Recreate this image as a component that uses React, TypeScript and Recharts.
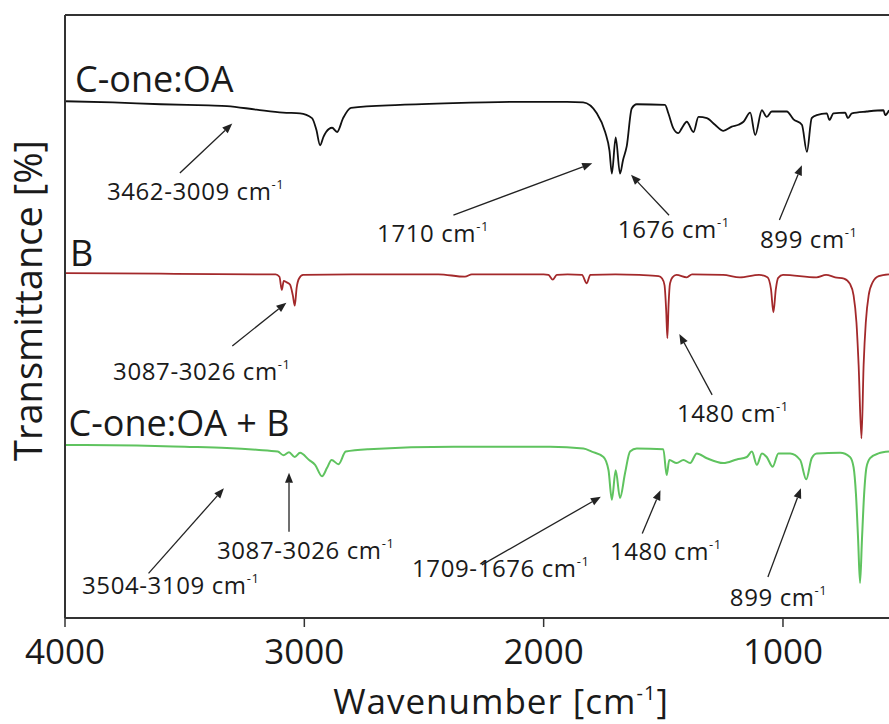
import { LineChart, Line, XAxis, YAxis, ReferenceLine, ReferenceDot } from "recharts";

// FTIR spectra, stacked: [wavenumber cm-1, transmittance (offset, a.u.)]
const cOneOA: [number, number][] = [
  [4000, 85.7], [3800, 85.5], [3600, 85.2], [3400, 85.0], [3323, 84.9], [3200, 84.3], [3089, 83.8],
  [3018, 83.7], [2968, 82.9], [2950, 81.0], [2934, 78.4], [2920, 79.8], [2909, 80.6], [2884, 81.3],
  [2863, 80.6], [2838, 82.9], [2805, 84.6], [2600, 85.1], [2379, 85.4], [2100, 85.6], [1902, 85.6],
  [1835, 85.5], [1778, 83.7], [1743, 80.6], [1725, 77.5], [1715, 73.7], [1699, 79.7], [1681, 73.7],
  [1668, 76.0], [1653, 78.2], [1632, 84.5], [1611, 85.2], [1493, 85.1], [1479, 83.7], [1458, 81.2],
  [1437, 80.4], [1423, 81.2], [1402, 82.3], [1374, 80.6], [1353, 83.1], [1318, 82.9], [1284, 81.8],
  [1249, 80.8], [1214, 81.5], [1186, 81.8], [1165, 82.3], [1137, 83.8], [1116, 80.1], [1088, 84.2],
  [1068, 83.1], [1047, 84.0], [984, 84.0], [956, 82.7], [921, 81.8], [900, 77.3], [880, 82.9],
  [859, 83.4], [817, 83.7], [806, 82.6], [789, 83.7], [740, 83.8], [729, 82.9], [712, 83.7],
  [650, 84.0], [580, 84.2], [573, 83.4], [557, 84.2],
];

const bSpec: [number, number][] = [
  [4000, 57.2], [3600, 57.1], [3200, 57.0], [3120, 57.0], [3104, 56.6], [3094, 54.4], [3086, 55.9],
  [3075, 55.7], [3060, 55.3], [3048, 53.5], [3040, 51.8], [3032, 54.8], [3022, 56.3], [3005, 56.9],
  [2800, 57.0], [2600, 57.0], [2440, 57.0], [2329, 56.6], [2300, 57.0], [2000, 57.0], [1980, 56.9],
  [1962, 56.1], [1945, 56.9], [1900, 57.0], [1840, 56.9], [1820, 55.5], [1805, 56.9], [1700, 57.0],
  [1600, 56.9], [1520, 56.7], [1505, 56.3], [1495, 55.2], [1488, 51.0], [1483, 46.4], [1478, 52.0],
  [1472, 55.5], [1462, 56.5], [1445, 56.9], [1402, 56.5], [1380, 57.0], [1250, 56.9], [1180, 56.5],
  [1100, 56.9], [1065, 56.5], [1050, 54.5], [1040, 50.7], [1030, 54.5], [1020, 56.4], [1000, 56.9],
  [860, 56.5], [820, 56.9], [782, 56.5], [745, 56.3], [720, 55.4], [705, 53.5], [693, 49.0],
  [684, 42.0], [672, 29.8], [663, 42.0], [654, 49.0], [642, 53.5], [625, 55.7], [600, 56.7], [557, 57.0],
];

const cOneOAB: [number, number][] = [
  [4000, 28.7], [3700, 28.6], [3500, 28.4], [3324, 28.2], [3200, 27.9], [3111, 27.6], [3087, 27.0],
  [3064, 27.5], [3040, 26.7], [3018, 27.4], [2980, 26.2], [2955, 25.4], [2926, 23.5], [2905, 24.9],
  [2886, 26.2], [2857, 25.5], [2827, 27.6], [2732, 28.0], [2376, 28.4], [1973, 28.4], [1834, 28.1],
  [1799, 27.6], [1750, 26.7], [1729, 24.5], [1715, 19.6], [1699, 24.5], [1681, 19.9], [1660, 24.0],
  [1639, 27.6], [1611, 28.1], [1500, 28.0], [1486, 23.7], [1475, 26.2], [1444, 25.7], [1416, 26.2],
  [1388, 25.7], [1360, 27.3], [1318, 26.5], [1249, 25.7], [1193, 26.3], [1151, 26.7], [1130, 27.6],
  [1109, 25.4], [1088, 27.3], [1068, 26.7], [1043, 25.1], [1019, 27.3], [970, 27.3], [928, 26.2],
  [903, 23.0], [880, 26.5], [859, 27.3], [761, 27.4], [720, 26.7], [705, 25.0], [695, 20.5],
  [686, 13.0], [678, 5.8], [670, 13.0], [661, 20.5], [651, 25.0], [636, 26.5], [601, 27.3], [557, 27.6],
];

const xTicks = [4000, 3000, 2000, 1000];

const seriesLabels = [
  { text: "C-one:OA", wn: 3958, t: 87.3 },
  { text: "B", wn: 3979, t: 58.4 },
  { text: "C-one:OA + B", wn: 3985, t: 30.2 },
];

// peak annotations: label anchor (left, baseline) and arrow tail -> head
const peakLabels = [
  { text: "3462-3009 cm", wn: 3825, t: 69.3 },
  { text: "1710 cm", wn: 2696, t: 62.4 },
  { text: "1676 cm", wn: 1690, t: 63.0 },
  { text: "899 cm", wn: 1096, t: 61.4 },
  { text: "3087-3026 cm", wn: 3799, t: 39.5 },
  { text: "1480 cm", wn: 1443, t: 32.5 },
  { text: "3504-3109 cm", wn: 3929, t: 4.0 },
  { text: "3087-3026 cm", wn: 3365, t: 9.8 },
  { text: "1709-1676 cm", wn: 2550, t: 6.8 },
  { text: "1480 cm", wn: 1723, t: 9.6 },
  { text: "899 cm", wn: 1222, t: 2.0 },
];

const arrows = [
  { from: [3520, 73.8], to: [3301, 82.0] },
  { from: [2377, 66.8], to: [1797, 75.4] },
  { from: [1476, 66.8], to: [1635, 73.5] },
  { from: [1015, 66.0], to: [921, 75.1] },
  { from: [3301, 45.1], to: [3075, 52.3] },
  { from: [1296, 37.0], to: [1433, 47.1] },
  { from: [3651, 7.4], to: [3336, 21.5] },
  { from: [3064, 14.3], to: [3064, 24.1] },
  { from: [2258, 8.8], to: [1761, 20.1] },
  { from: [1588, 14.0], to: [1512, 21.2] },
  { from: [1063, 6.8], to: [925, 21.5] },
];

const FONT = "'Open Sans', 'Noto Sans', sans-serif";
const INK = "#1a1a1a";

const toRows = (pts: [number, number][]) => pts.map(([wn, t]) => ({ wn, t }));

function Arrow(p: any) {
  const { x1, y1, x2, y2 } = p;
  const dx = x2 - x1;
  const dy = y2 - y1;
  const len = Math.sqrt(dx * dx + dy * dy) || 1;
  const ux = dx / len;
  const uy = dy / len;
  const hl = 10;
  const hw = 4;
  const bx = x2 - ux * hl;
  const by = y2 - uy * hl;
  return (
    <g>
      <line x1={x1} y1={y1} x2={bx} y2={by} stroke="#222" strokeWidth={1.3} />
      <polygon
        points={`${x2},${y2} ${bx - uy * hw},${by + ux * hw} ${bx + uy * hw},${by - ux * hw}`}
        fill="#222"
      />
    </g>
  );
}

function PeakText({ cx, cy, text }: any) {
  return (
    <text x={cx} y={cy} fontFamily={FONT} fontSize={24} letterSpacing={0.6} fill={INK}>
      {text}
      <tspan dy={-11} fontSize={13}>-1</tspan>
    </text>
  );
}

function SeriesText({ cx, cy, text }: any) {
  return (
    <text x={cx} y={cy} fontFamily={FONT} fontSize={36} fill={INK}>
      {text}
    </text>
  );
}

function YTitle(props: any) {
  const vb = props.viewBox || { x: 0, y: 15, width: 65, height: 603 };
  const x = vb.x + 42;
  const y = vb.y + vb.height / 2 - 16;
  return (
    <text x={x} y={y} transform={`rotate(-90, ${x}, ${y})`} textAnchor="middle"
      fontFamily={FONT} fontSize={38} fill={INK}>
      Transmittance [%]
    </text>
  );
}

function XTitle(props: any) {
  const vb = props.viewBox || { x: 65, y: 618, width: 824, height: 106 };
  const x = vb.x + vb.width / 2 + 24;
  const y = vb.y + 96;
  return (
    <text x={x} y={y} textAnchor="middle" fontFamily={FONT} fontSize={35} letterSpacing={1} fill={INK}>
      Wavenumber [cm<tspan dy={-14} fontSize={20}>-1</tspan><tspan dy={14}>]</tspan>
    </text>
  );
}

export default function App() {
  return (
    <div style={{ position: "absolute", left: 0, top: 0, width: 889, height: 724, background: "#fff" }}>
      <LineChart width={889} height={724} margin={{ top: 15, right: 0, bottom: 0, left: 0 }}>
        <XAxis
          dataKey="wn"
          type="number"
          domain={[557, 4000]}
          reversed
          allowDataOverflow
          ticks={xTicks}
          interval={0}
          height={106}
          tickSize={9}
          tickMargin={12}
          axisLine={{ stroke: "#333", strokeWidth: 2 }}
          tickLine={{ stroke: "#333", strokeWidth: 1.5 }}
          tick={{ fontSize: 35, fill: INK, fontFamily: FONT }}
          label={<XTitle />}
        />
        <YAxis
          type="number"
          domain={[0, 100]}
          allowDataOverflow
          width={65}
          tick={false}
          tickLine={false}
          axisLine={{ stroke: "#333", strokeWidth: 2 }}
          label={<YTitle />}
        />
        <ReferenceLine y={100} stroke="#333" strokeWidth={2} />
        <Line data={toRows(cOneOA)} dataKey="t" type="monotone" stroke="#111" strokeWidth={1.8}
          dot={false} isAnimationActive={false} />
        <Line data={toRows(bSpec)} dataKey="t" type="monotone" stroke="#a3292b" strokeWidth={1.8}
          dot={false} isAnimationActive={false} />
        <Line data={toRows(cOneOAB)} dataKey="t" type="monotone" stroke="#5fc35f" strokeWidth={2}
          dot={false} isAnimationActive={false} />
        {seriesLabels.map((s, i) => (
          <ReferenceDot key={`s${i}`} x={s.wn} y={s.t} r={0}
            shape={(p: any) => <SeriesText {...p} text={s.text} />} />
        ))}
        {peakLabels.map((a, i) => (
          <ReferenceDot key={`p${i}`} x={a.wn} y={a.t} r={0}
            shape={(p: any) => <PeakText {...p} text={a.text} />} />
        ))}
        {arrows.map((a, i) => (
          <ReferenceLine key={`a${i}`}
            segment={[{ x: a.from[0], y: a.from[1] }, { x: a.to[0], y: a.to[1] }]}
            shape={(p: any) => <Arrow {...p} />} />
        ))}
      </LineChart>
    </div>
  );
}
